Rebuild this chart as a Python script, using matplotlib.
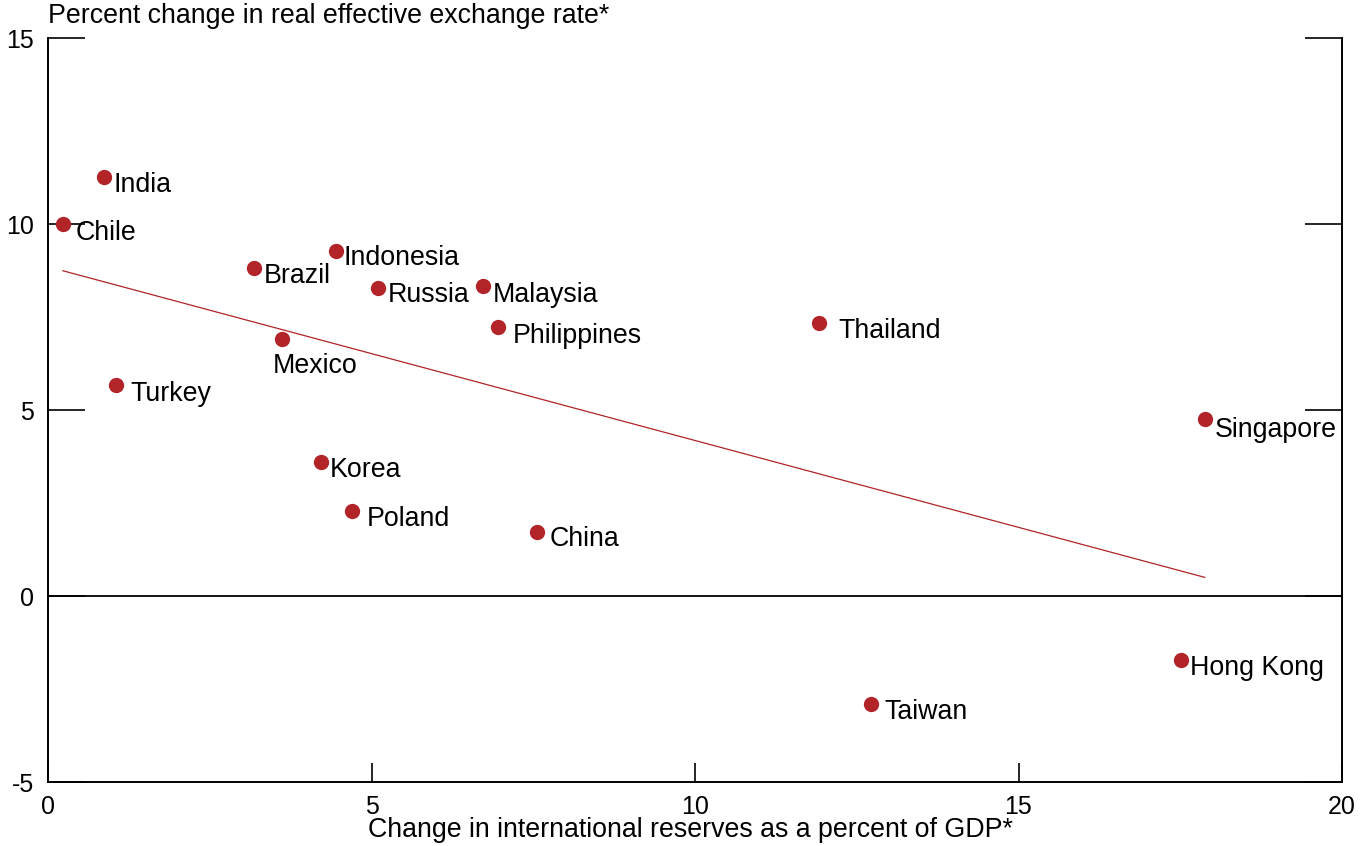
import numpy as np
import matplotlib
matplotlib.use("Agg")
import matplotlib.pyplot as plt

countries = ["India", "Chile", "Brazil", "Indonesia", "Russia", "Malaysia",
             "Philippines", "Thailand", "Mexico", "Turkey", "Singapore",
             "Korea", "Poland", "China", "Hong Kong", "Taiwan"]
reserves_chg = np.array([0.87, 0.23, 3.18, 4.45, 5.10, 6.72, 6.96, 11.92,
                         3.62, 1.05, 17.88, 4.22, 4.70, 7.56, 17.51, 12.72])
reer_chg = np.array([11.26, 10.00, 8.82, 9.27, 8.28, 8.33, 7.23, 7.34,
                     6.91, 5.67, 4.76, 3.60, 2.28, 1.72, -1.72, -2.90])

# label offsets from each dot, in pixels (x right, y down)
label_off = {
    "India": (9, 8), "Chile": (13, 9), "Brazil": (10, 8),
    "Indonesia": (8, 7), "Russia": (10, 7), "Malaysia": (10, 9),
    "Philippines": (14, 9), "Thailand": (19, 8), "Mexico": (-9, 27),
    "Turkey": (14, 9), "Singapore": (10, 11), "Korea": (9, 8),
    "Poland": (15, 8), "China": (12, 7), "Hong Kong": (9, 8),
    "Taiwan": (13, 8),
}

red = "#b22428"
plt.rcParams["font.family"] = ["Liberation Sans", "DejaVu Sans"]
plt.rcParams["font.size"] = 19
plt.rcParams["axes.unicode_minus"] = False

fig = plt.figure(figsize=(13.69, 8.46), dpi=100)
ax = fig.add_axes([48 / 1369, 64 / 846, 1294 / 1369, 744 / 846])

# OLS trend over the data range
slope, icept = np.polyfit(reserves_chg, reer_chg, 1)
xf = np.array([reserves_chg.min(), reserves_chg.max()])
ax.plot(xf, icept + slope * xf, color=red, lw=0.9, zorder=2)

ax.axhline(0, color="black", lw=1.3, zorder=1)
ax.plot(reserves_chg, reer_chg, "o", color=red, markersize=10, zorder=3, clip_on=False)

for name, xv, yv in zip(countries, reserves_chg, reer_chg):
    dx, dy = label_off[name]
    ax.annotate(name, (xv, yv), xytext=(dx, -dy), textcoords="offset pixels",
                ha="left", va="center", fontsize=19.3)

ax.set_xlim(0, 20)
ax.set_ylim(-5, 15)
ax.set_xticks([0, 5, 10, 15, 20])
ax.set_yticks([-5, 0, 5, 10, 15])
ax.spines["top"].set_visible(False)
for s in ["left", "right", "bottom"]:
    ax.spines[s].set_linewidth(1.4)
ax.tick_params(axis="y", direction="in", length=26.5, width=1.2,
               left=True, right=True, pad=10, labelsize=18)
ax.tick_params(axis="x", direction="in", length=13.5, width=1.2,
               top=False, pad=9, labelsize=18)

fig.text(48 / 1369, 1 - 16 / 846, "Percent change in real effective exchange rate*",
         ha="left", va="center", fontsize=19.3)
fig.text(690 / 1369, 1 - 830 / 846, "Change in international reserves as a percent of GDP*",
         ha="center", va="center", fontsize=19.3)

fig.savefig("out.png", dpi=100)
